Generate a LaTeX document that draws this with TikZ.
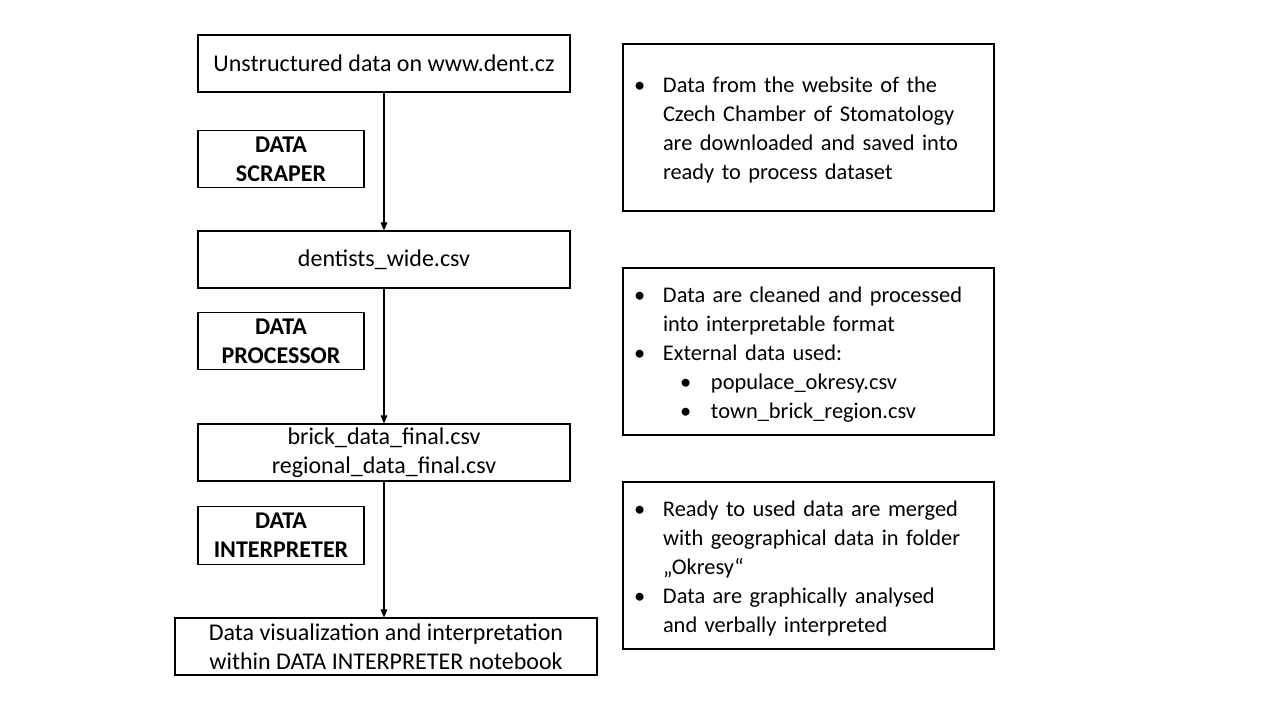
\documentclass[tikz,border=0pt]{standalone}
\usepackage{fontspec}
\setmainfont{Carlito}
\newfontfamily\notefont[WordSpace=0.7]{Carlito}
\usepackage{tikz}
\usetikzlibrary{arrows.meta,calc}
\tikzstyle{flowbox}=[draw,line width=0.8pt,minimum width=279pt,minimum height=42.75pt,inner sep=0pt,align=center,font=\fontsize{18}{21.75}\selectfont]
\tikzstyle{toolbox}=[draw,line width=0.8pt,minimum width=124.5pt,minimum height=43pt,inner sep=0pt,align=center,font=\fontsize{18}{21.75}\selectfont\bfseries]
\tikzstyle{notebox}=[draw,line width=0.8pt,minimum width=278.25pt,minimum height=125.25pt,inner xsep=8.25pt,inner ysep=0pt,text width=261.75pt,align=left,font=\notefont\fontsize{16.8}{21.75}\selectfont]
\tikzstyle{flowedge}=[draw,line width=0.8pt,-{Triangle[length=6pt,width=5pt]}]
\newcommand{\bul}{\makebox[21.75pt][l]{\textbullet}}
\newcommand{\subbul}{\hspace*{34.5pt}\makebox[23.25pt][l]{\textbullet}}
\newcommand{\notelist}[1]{\raisebox{-2.25pt}[\height][\depth]{\begin{tabular}{@{}l@{}l@{}}#1\end{tabular}}}

\begin{document}
\begin{tikzpicture}[x=0.75pt,y=-0.75pt]
    \useasboundingbox (0,0) rectangle (1280,720);

    % main flow
    \node[flowbox] (raw) at (384,63.5) {Unstructured data on www.dent.cz};
    \node[flowbox] (wide) at (384,259.5) {dentists\_wide.csv};
    \node[flowbox] (final) at (384,452.5) {brick\_data\_final.csv\\regional\_data\_final.csv};
    \node[flowbox,minimum width=316.5pt] (viz) at (386,646.5) {Data visualization and interpretation\\within DATA INTERPRETER notebook};

    % tools
    \node[toolbox] (scraper) at (281,159) {DATA\\SCRAPER};
    \node[toolbox] (processor) at (281,341) {DATA\\PROCESSOR};
    \node[toolbox] (interpreter) at (281,535.5) {DATA\\INTERPRETER};

    % arrows
    \foreach \source/ \dest in {raw/wide, wide/final, final/viz}
        \path[flowedge] (\source.south) -- (\source.south |- \dest.north);

    % notes
    \node[notebox] (note1) at (808.5,127.5) {\notelist{%
        \bul & Data from the website of the\\
             & Czech Chamber of Stomatology\\
             & are downloaded and saved into\\
             & ready to process dataset}};
    \node[notebox] (note2) at (808.5,351.5) {\notelist{%
        \bul & Data are cleaned and processed\\
             & into interpretable format\\
        \bul & External data used:\\
        \multicolumn{2}{@{}l@{}}{\subbul populace\_okresy.csv}\\
        \multicolumn{2}{@{}l@{}}{\subbul town\_brick\_region.csv}}};
    \node[notebox] (note3) at (808.5,565.5) {\notelist{%
        \bul & Ready to used data are merged\\
             & with geographical data in folder\\
             & „Okresy“\\
        \bul & Data are graphically analysed\\
             & and verbally interpreted}};
\end{tikzpicture}
\end{document}
